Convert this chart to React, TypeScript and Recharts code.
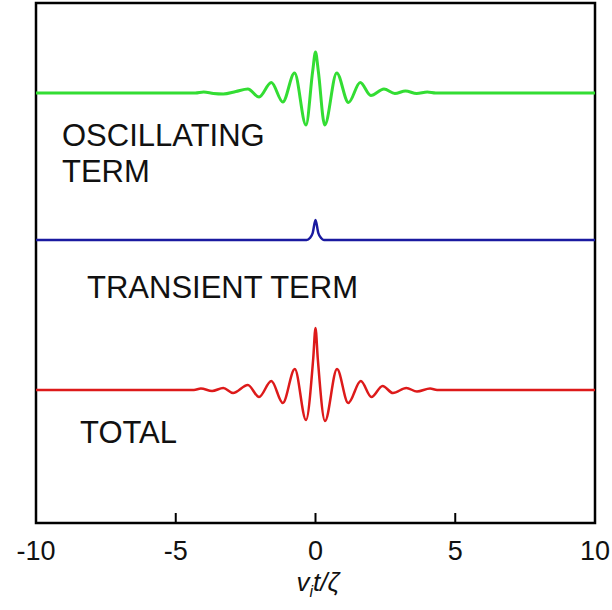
import React from 'react';
import {
  LineChart,
  Line,
  XAxis,
  YAxis,
  ReferenceArea,
  ReferenceLine
} from 'recharts';

// x positions (v_i t / zeta) and trace values
const oscX = [-10, -4.3, -4.0, -3.65, -3.3, -2.85, -2.42, -2.02, -1.58, -1.17, -0.75, -0.34, -0.1, 0, 0.1, 0.33, 0.76, 1.18, 1.6, 1.98, 2.45, 2.84, 3.22, 3.62, 4.0, 4.3, 10];
const oscY = [0, 0, 0.1, -0.05, -0.1, 0.15, 0.4, -0.4, 1.05, -0.9, 2.0, -3.2, 2.2, 4.1, 2.2, -3.2, 2.0, -0.95, 1.05, -0.25, 0.4, -0.05, 0.2, -0.05, 0.1, 0, 0];

const transX = [-10, -0.32, -0.2, -0.1, 0, 0.1, 0.2, 0.3, 10];
const transY = [0, 0, 0.2, 0.7, 2.0, 0.7, 0.2, 0, 0];

const totalX = [-10, -4.35, -4.1, -3.7, -3.3, -2.95, -2.42, -2.02, -1.58, -1.17, -0.74, -0.34, -0.08, 0, 0.08, 0.34, 0.77, 1.17, 1.62, 2.0, 2.4, 2.77, 3.25, 3.63, 4.1, 4.35, 10];
const totalY = [0, 0, 0.15, -0.1, 0.2, -0.3, 0.5, -0.7, 0.9, -1.3, 2.1, -3.0, 3.2, 6.2, 3.2, -3.1, 2.1, -1.3, 0.9, -0.7, 0.4, -0.3, 0.2, -0.15, 0.15, 0, 0];

const xTicks = [-10, -5, 0, 5, 10];
const innerTicks = [-5, 0, 5];

// vertical offsets of the stacked traces
const oscBase = 43.0;
const transBase = 28.3;
const totalBase = 13.3;

const build = (xs: number[], ys: number[], base: number) =>
  xs.map((x, i) => ({ x, y: ys[i] + base }));

const oscData = build(oscX, oscY, oscBase);
const transData = build(transX, transY, transBase);
const totalData = build(totalX, totalY, totalBase);

const font = '"Liberation Sans", Arial, sans-serif';

export default function App() {
  return (
    <div style={{ position: 'absolute', left: 0, top: 0, width: 612, height: 610, background: '#fff' }}>
      <LineChart width={612} height={610} margin={{ top: 3, right: 17, left: 36, bottom: 27 }}>
        <XAxis
          dataKey="x"
          type="number"
          domain={[-10, 10]}
          ticks={xTicks}
          allowDataOverflow
          axisLine={false}
          tickLine={false}
          tickSize={0}
          tickMargin={18}
          height={60}
          tick={{ fill: '#111', fontSize: 27, fontFamily: font }}
        />
        <YAxis type="number" domain={[0, 52]} hide allowDataOverflow />
        <ReferenceArea x1={-10} x2={10} y1={0} y2={52} fill="none" stroke="#000" strokeWidth={2.5} fillOpacity={0} ifOverflow="visible" />
        {innerTicks.map((t) => (
          <ReferenceLine key={t} segment={[{ x: t, y: 0 }, { x: t, y: 1 }]} stroke="#000" strokeWidth={2} />
        ))}
        <Line data={oscData} dataKey="y" type="monotone" stroke="#33dd33" strokeWidth={3} dot={false} isAnimationActive={false} />
        <Line data={transData} dataKey="y" type="monotone" stroke="#1a1aa0" strokeWidth={2.5} dot={false} isAnimationActive={false} />
        <Line data={totalData} dataKey="y" type="monotone" stroke="#dd1a1a" strokeWidth={2.5} dot={false} isAnimationActive={false} />
      </LineChart>
      <svg width={612} height={610} style={{ position: 'absolute', left: 0, top: 0, pointerEvents: 'none' }}>
        <g fontFamily={font} fontSize={31} fill="#111">
          <text x={62} y={146}>OSCILLATING</text>
          <text x={62} y={182}>TERM</text>
          <text x={87} y={298}>TRANSIENT TERM</text>
          <text x={80} y={443}>TOTAL</text>
        </g>
        <text x={318} y={591} textAnchor="middle" fontFamily={font} fontSize={26} fontStyle="italic" fill="#111">
          <tspan>v</tspan>
          <tspan fontSize={16} dy={6}>i</tspan>
          <tspan dy={-6}>t/ζ</tspan>
        </text>
      </svg>
    </div>
  );
}
